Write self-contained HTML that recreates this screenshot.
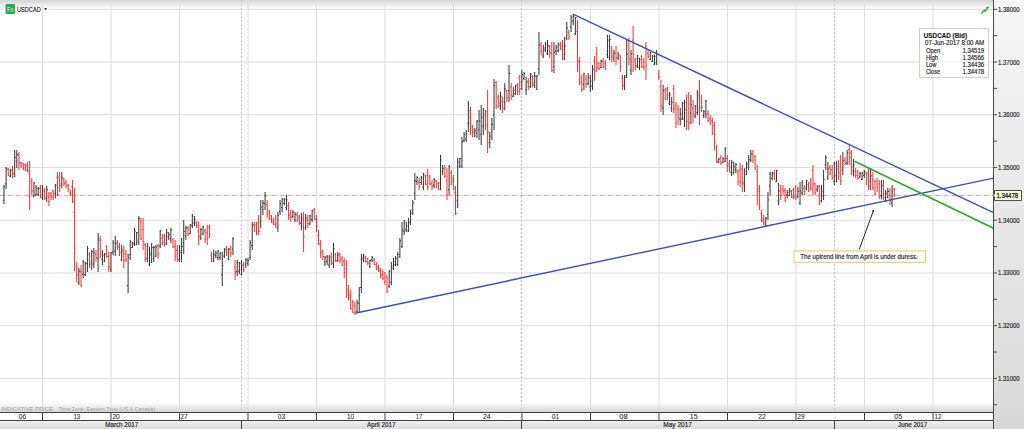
<!DOCTYPE html><html><head><meta charset="utf-8"><style>html,body{margin:0;padding:0;background:#fff;width:1024px;height:429px;overflow:hidden}svg{display:block;font-family:"Liberation Sans",sans-serif}</style></head><body>
<svg width="1024" height="429" viewBox="0 0 1024 429">
<defs><linearGradient id="gtop" x1="0" y1="0" x2="0" y2="1"><stop offset="0" stop-color="#d4d4d4"/><stop offset="1" stop-color="#fcfcfc"/></linearGradient><linearGradient id="gbot" x1="0" y1="0" x2="0" y2="1"><stop offset="0" stop-color="#ffffff"/><stop offset="1" stop-color="#d6d6d6"/></linearGradient><linearGradient id="gax" x1="0" y1="0" x2="0" y2="1"><stop offset="0" stop-color="#f6f6f6"/><stop offset="1" stop-color="#d9d9d9"/></linearGradient><linearGradient id="gmon" x1="0" y1="0" x2="0" y2="1"><stop offset="0" stop-color="#efefef"/><stop offset="1" stop-color="#dadada"/></linearGradient></defs>
<rect x="0" y="0" width="1024" height="429" fill="#ffffff"/>
<rect x="0" y="0" width="994" height="8.5" fill="url(#gtop)"/>
<rect x="0" y="402" width="994" height="10" fill="url(#gbot)"/>
<rect x="994" y="0" width="30" height="429" fill="url(#gax)"/>
<rect x="0" y="8.80" width="4" height="1" fill="#dcdcdc"/>
<rect x="49" y="8.80" width="944" height="1" fill="#dcdcdc"/>
<rect x="0" y="61.53" width="993" height="1" fill="#dcdcdc"/>
<rect x="0" y="114.26" width="993" height="1" fill="#dcdcdc"/>
<rect x="0" y="166.99" width="993" height="1" fill="#dcdcdc"/>
<rect x="0" y="219.72" width="993" height="1" fill="#dcdcdc"/>
<rect x="0" y="272.45" width="993" height="1" fill="#dcdcdc"/>
<rect x="0" y="325.18" width="993" height="1" fill="#dcdcdc"/>
<rect x="0" y="377.91" width="993" height="1" fill="#dcdcdc"/>
<rect x="42.00" y="0" width="1" height="412" fill="#dedede"/>
<rect x="110.50" y="0" width="1" height="412" fill="#dedede"/>
<rect x="179.00" y="0" width="1" height="412" fill="#dedede"/>
<rect x="247.50" y="0" width="1" height="412" fill="#dedede"/>
<rect x="316.00" y="0" width="1" height="412" fill="#dedede"/>
<rect x="384.50" y="0" width="1" height="412" fill="#dedede"/>
<rect x="453.00" y="0" width="1" height="412" fill="#dedede"/>
<rect x="590.00" y="0" width="1" height="412" fill="#dedede"/>
<rect x="658.50" y="0" width="1" height="412" fill="#dedede"/>
<rect x="727.00" y="0" width="1" height="412" fill="#dedede"/>
<rect x="795.50" y="0" width="1" height="412" fill="#dedede"/>
<rect x="864.00" y="0" width="1" height="412" fill="#dedede"/>
<rect x="932.50" y="0" width="1" height="412" fill="#dedede"/>
<line x1="241.50" y1="0" x2="241.50" y2="412" stroke="#c8c8c8" stroke-width="1" stroke-dasharray="2,2"/>
<line x1="521.50" y1="0" x2="521.50" y2="412" stroke="#c8c8c8" stroke-width="1" stroke-dasharray="2,2"/>
<line x1="834.50" y1="0" x2="834.50" y2="412" stroke="#c8c8c8" stroke-width="1" stroke-dasharray="2,2"/>
<line x1="0" y1="195.5" x2="993" y2="195.5" stroke="#ffd6d6" stroke-width="1"/>
<line x1="0" y1="195.5" x2="993" y2="195.5" stroke="#ff9c9c" stroke-width="1" stroke-dasharray="4,4"/>
<path d="M3.98 185.0V204.0M2.88 200.6h1.1M3.98 186.3h1.1M6.12 167.0V189.0M5.02 184.0h1.1M6.12 168.4h1.1M10.40 169.0V177.0M9.30 176.3h1.1M10.40 170.6h1.1M14.68 150.0V177.0M13.58 173.5h1.1M14.68 157.3h1.1M16.82 150.0V168.0M15.72 161.1h1.1M16.82 154.5h1.1M33.94 182.0V197.0M32.84 195.9h1.1M33.94 183.1h1.1M36.08 185.0V196.0M34.98 194.7h1.1M36.08 188.2h1.1M38.22 187.0V196.0M37.12 194.2h1.1M38.22 188.4h1.1M42.50 185.0V200.0M41.40 197.7h1.1M42.50 189.9h1.1M46.78 186.0V202.0M45.68 198.0h1.1M46.78 189.7h1.1M55.34 184.0V198.0M54.24 193.6h1.1M55.34 185.4h1.1M61.76 172.0V188.0M60.66 184.0h1.1M61.76 177.7h1.1M78.88 268.0V285.0M77.78 282.5h1.1M78.88 271.1h1.1M83.16 260.0V278.0M82.06 274.2h1.1M83.16 262.0h1.1M85.30 262.0V276.0M84.20 274.7h1.1M85.30 263.0h1.1M87.44 246.0V272.0M86.34 263.7h1.1M87.44 248.5h1.1M91.72 250.0V270.0M90.62 262.9h1.1M91.72 251.6h1.1M93.86 248.0V268.0M92.76 263.9h1.1M93.86 252.8h1.1M98.14 233.0V272.0M97.04 258.3h1.1M98.14 238.8h1.1M102.42 250.0V265.0M101.32 259.6h1.1M102.42 255.8h1.1M104.56 253.0V262.0M103.46 261.1h1.1M104.56 254.0h1.1M110.98 252.0V272.0M109.88 269.2h1.1M110.98 253.0h1.1M113.12 240.0V255.0M112.02 252.1h1.1M113.12 242.7h1.1M115.26 236.0V256.0M114.16 251.0h1.1M115.26 243.7h1.1M121.68 245.0V261.0M120.58 259.9h1.1M121.68 250.8h1.1M128.10 254.0V293.0M127.00 285.6h1.1M128.10 257.4h1.1M130.24 240.0V260.0M129.14 254.6h1.1M130.24 241.4h1.1M132.38 242.0V248.0M131.28 247.6h1.1M132.38 242.7h1.1M134.52 228.0V246.0M133.42 244.1h1.1M134.52 231.0h1.1M136.66 232.0V245.0M135.56 244.1h1.1M136.66 232.7h1.1M138.80 216.0V245.0M137.70 242.0h1.1M138.80 218.5h1.1M147.36 243.0V262.0M146.26 258.7h1.1M147.36 246.4h1.1M149.50 247.0V266.0M148.40 264.2h1.1M149.50 253.6h1.1M151.64 243.0V263.0M150.54 255.0h1.1M151.64 247.3h1.1M153.78 246.0V262.0M152.68 258.5h1.1M153.78 247.3h1.1M155.92 245.0V257.0M154.82 256.0h1.1M155.92 247.0h1.1M160.20 230.0V248.0M159.10 246.1h1.1M160.20 231.0h1.1M166.62 229.0V245.0M165.52 244.0h1.1M166.62 232.8h1.1M168.76 232.0V240.0M167.66 236.9h1.1M168.76 234.8h1.1M170.90 228.0V243.0M169.80 238.6h1.1M170.90 230.1h1.1M179.46 245.0V262.0M178.36 259.8h1.1M179.46 250.7h1.1M181.60 238.0V262.0M180.50 252.5h1.1M181.60 246.4h1.1M183.74 220.0V254.0M182.64 242.7h1.1M183.74 231.4h1.1M185.88 226.0V240.0M184.78 235.7h1.1M185.88 227.8h1.1M190.16 224.0V234.0M189.06 233.4h1.1M190.16 224.6h1.1M192.30 214.0V228.0M191.20 225.9h1.1M192.30 216.0h1.1M194.44 216.0V226.0M193.34 223.1h1.1M194.44 219.8h1.1M200.86 228.0V240.0M199.76 237.9h1.1M200.86 229.5h1.1M203.00 226.0V235.0M201.90 233.8h1.1M203.00 227.1h1.1M213.70 250.0V262.0M212.60 258.6h1.1M213.70 254.4h1.1M215.84 251.0V258.0M214.74 255.7h1.1M215.84 253.2h1.1M217.98 250.0V260.0M216.88 257.8h1.1M217.98 251.1h1.1M220.12 252.0V260.0M219.02 257.4h1.1M220.12 253.3h1.1M222.26 252.0V286.0M221.16 274.8h1.1M222.26 265.3h1.1M224.40 248.0V258.0M223.30 256.1h1.1M224.40 249.9h1.1M228.68 248.0V260.0M227.58 258.7h1.1M228.68 249.1h1.1M232.96 237.0V255.0M231.86 249.0h1.1M232.96 238.8h1.1M237.24 260.0V276.0M236.14 271.5h1.1M237.24 262.8h1.1M239.38 262.0V274.0M238.28 271.1h1.1M239.38 263.2h1.1M241.52 260.0V275.0M240.42 274.2h1.1M241.52 265.8h1.1M245.80 258.0V268.0M244.70 264.2h1.1M245.80 260.0h1.1M247.94 258.0V266.0M246.84 263.2h1.1M247.94 260.7h1.1M250.08 240.0V260.0M248.98 257.5h1.1M250.08 242.8h1.1M252.22 222.0V250.0M251.12 245.7h1.1M252.22 225.8h1.1M260.78 200.0V228.0M259.68 222.1h1.1M260.78 207.1h1.1M262.92 200.0V215.0M261.82 209.5h1.1M262.92 203.0h1.1M265.06 192.0V210.0M263.96 203.3h1.1M265.06 196.1h1.1M277.90 212.0V232.0M276.80 227.1h1.1M277.90 215.3h1.1M280.04 200.0V215.0M278.94 211.5h1.1M280.04 203.7h1.1M282.18 198.0V212.0M281.08 207.5h1.1M282.18 199.2h1.1M284.32 198.0V205.0M283.22 203.3h1.1M284.32 199.0h1.1M286.46 195.0V210.0M285.36 207.8h1.1M286.46 199.8h1.1M292.88 210.0V218.0M291.78 216.4h1.1M292.88 212.1h1.1M295.02 212.0V222.0M293.92 219.7h1.1M295.02 214.3h1.1M301.44 213.0V230.0M300.34 223.5h1.1M301.44 218.0h1.1M305.72 214.0V230.0M304.62 227.7h1.1M305.72 217.9h1.1M310.00 215.0V225.0M308.90 224.0h1.1M310.00 215.9h1.1M312.14 210.0V222.0M311.04 219.5h1.1M312.14 210.9h1.1M324.98 256.0V266.0M323.88 262.1h1.1M324.98 257.3h1.1M327.12 255.0V265.0M326.02 261.2h1.1M327.12 256.9h1.1M329.26 255.0V268.0M328.16 265.1h1.1M329.26 260.2h1.1M333.54 243.0V268.0M332.44 263.0h1.1M333.54 248.8h1.1M337.82 252.0V262.0M336.72 260.4h1.1M337.82 255.0h1.1M357.08 300.0V313.0M355.98 311.8h1.1M357.08 302.6h1.1M359.22 287.0V313.0M358.12 303.4h1.1M359.22 295.8h1.1M361.36 254.0V293.0M360.26 287.5h1.1M361.36 258.0h1.1M363.50 254.0V262.0M362.40 259.0h1.1M363.50 256.0h1.1M369.92 260.0V268.0M368.82 266.4h1.1M369.92 260.6h1.1M372.06 256.0V262.0M370.96 259.7h1.1M372.06 257.6h1.1M389.18 270.0V288.0M388.08 286.1h1.1M389.18 271.2h1.1M391.32 262.0V285.0M390.22 282.2h1.1M391.32 265.7h1.1M393.46 258.0V270.0M392.36 268.1h1.1M393.46 261.8h1.1M395.60 256.0V266.0M394.50 264.5h1.1M395.60 258.3h1.1M397.74 252.0V266.0M396.64 264.4h1.1M397.74 254.4h1.1M399.88 238.0V258.0M398.78 256.9h1.1M399.88 240.8h1.1M402.02 222.0V248.0M400.92 246.6h1.1M402.02 230.0h1.1M404.16 220.0V235.0M403.06 231.4h1.1M404.16 221.7h1.1M406.30 222.0V232.0M405.20 229.8h1.1M406.30 225.8h1.1M408.44 218.0V232.0M407.34 230.8h1.1M408.44 222.7h1.1M410.58 210.0V225.0M409.48 222.0h1.1M410.58 213.3h1.1M412.72 200.0V215.0M411.62 209.9h1.1M412.72 202.8h1.1M414.86 173.0V200.0M413.76 193.9h1.1M414.86 180.8h1.1M417.00 176.0V185.0M415.90 181.5h1.1M417.00 177.5h1.1M421.28 176.0V185.0M420.18 182.5h1.1M421.28 177.7h1.1M423.42 173.0V190.0M422.32 187.1h1.1M423.42 174.2h1.1M434.12 178.0V188.0M433.02 185.2h1.1M434.12 179.5h1.1M440.54 155.0V190.0M439.44 182.8h1.1M440.54 160.0h1.1M442.68 165.0V175.0M441.58 171.1h1.1M442.68 168.9h1.1M449.10 165.0V195.0M448.00 189.8h1.1M449.10 166.5h1.1M457.66 158.0V208.0M456.56 200.9h1.1M457.66 162.1h1.1M459.80 158.0V168.0M458.70 166.1h1.1M459.80 158.6h1.1M461.94 137.0V168.0M460.84 166.2h1.1M461.94 141.9h1.1M464.08 132.0V142.0M462.98 140.7h1.1M464.08 134.5h1.1M466.22 130.0V142.0M465.12 139.2h1.1M466.22 133.8h1.1M468.36 101.0V132.0M467.26 123.3h1.1M468.36 110.3h1.1M474.78 128.0V137.0M473.68 136.1h1.1M474.78 130.7h1.1M476.92 120.0V138.0M475.82 133.0h1.1M476.92 121.2h1.1M479.06 110.0V140.0M477.96 129.7h1.1M479.06 120.9h1.1M481.20 105.0V145.0M480.10 134.2h1.1M481.20 117.3h1.1M483.34 108.0V135.0M482.24 126.0h1.1M483.34 110.7h1.1M489.76 132.0V148.0M488.66 142.6h1.1M489.76 136.1h1.1M491.90 118.0V140.0M490.80 132.0h1.1M491.90 124.4h1.1M494.04 79.0V130.0M492.94 115.1h1.1M494.04 85.7h1.1M500.46 92.0V110.0M499.36 103.8h1.1M500.46 96.4h1.1M504.74 83.0V110.0M503.64 102.2h1.1M504.74 89.0h1.1M509.02 65.0V102.0M507.92 90.5h1.1M509.02 73.4h1.1M513.30 87.0V97.0M512.20 96.3h1.1M513.30 90.1h1.1M515.44 85.0V95.0M514.34 93.6h1.1M515.44 85.8h1.1M521.86 70.0V90.0M520.76 82.2h1.1M521.86 74.5h1.1M524.00 72.0V80.0M522.90 78.5h1.1M524.00 73.7h1.1M526.14 77.0V95.0M525.04 89.8h1.1M526.14 82.7h1.1M530.42 73.0V88.0M529.32 86.8h1.1M530.42 74.5h1.1M534.70 72.0V88.0M533.60 85.5h1.1M534.70 76.0h1.1M536.84 75.0V90.0M535.74 89.2h1.1M536.84 76.1h1.1M538.98 32.0V75.0M537.88 68.8h1.1M538.98 44.3h1.1M543.26 45.0V58.0M542.16 56.0h1.1M543.26 48.0h1.1M545.40 42.0V52.0M544.30 49.9h1.1M545.40 44.1h1.1M547.54 40.0V55.0M546.44 53.6h1.1M547.54 45.4h1.1M553.96 42.0V73.0M552.86 66.5h1.1M553.96 52.4h1.1M556.10 45.0V55.0M555.00 51.1h1.1M556.10 47.1h1.1M558.24 43.0V52.0M557.14 50.7h1.1M558.24 44.1h1.1M564.66 37.0V60.0M563.56 54.6h1.1M564.66 45.8h1.1M566.80 22.0V40.0M565.70 38.3h1.1M566.80 28.1h1.1M571.08 15.0V32.0M569.98 27.0h1.1M571.08 17.2h1.1M573.22 14.0V25.0M572.12 21.0h1.1M573.22 16.4h1.1M575.36 17.0V35.0M574.26 33.9h1.1M575.36 17.9h1.1M583.92 73.0V90.0M582.82 84.2h1.1M583.92 73.9h1.1M588.20 73.0V85.0M587.10 83.9h1.1M588.20 77.5h1.1M590.34 75.0V92.0M589.24 86.9h1.1M590.34 81.2h1.1M592.48 65.0V90.0M591.38 86.2h1.1M592.48 69.5h1.1M601.04 60.0V68.0M599.94 67.5h1.1M601.04 60.7h1.1M607.46 35.0V58.0M606.36 54.7h1.1M607.46 40.3h1.1M609.60 35.0V60.0M608.50 57.1h1.1M609.60 39.5h1.1M613.88 50.0V62.0M612.78 58.0h1.1M613.88 53.2h1.1M618.16 52.0V60.0M617.06 58.1h1.1M618.16 54.4h1.1M624.58 75.0V90.0M623.48 85.9h1.1M624.58 77.3h1.1M626.72 40.0V78.0M625.62 75.4h1.1M626.72 54.2h1.1M631.00 50.0V75.0M629.90 70.7h1.1M631.00 53.9h1.1M637.42 55.0V68.0M636.32 66.0h1.1M637.42 58.2h1.1M639.56 58.0V70.0M638.46 67.7h1.1M639.56 59.3h1.1M650.26 52.0V60.0M649.16 59.2h1.1M650.26 52.9h1.1M652.40 55.0V62.0M651.30 61.4h1.1M652.40 56.2h1.1M654.54 55.0V65.0M653.44 64.2h1.1M654.54 56.3h1.1M656.68 50.0V65.0M655.58 62.9h1.1M656.68 53.7h1.1M663.10 85.0V115.0M662.00 108.0h1.1M663.10 90.5h1.1M669.52 92.0V105.0M668.42 103.8h1.1M669.52 94.9h1.1M671.66 97.0V112.0M670.56 107.9h1.1M671.66 102.3h1.1M680.22 108.0V125.0M679.12 119.1h1.1M680.22 114.0h1.1M682.36 102.0V120.0M681.26 119.0h1.1M682.36 103.1h1.1M684.50 100.0V127.0M683.40 118.9h1.1M684.50 109.8h1.1M690.92 95.0V124.0M689.82 113.1h1.1M690.92 104.8h1.1M695.20 105.0V118.0M694.10 116.2h1.1M695.20 106.1h1.1M697.34 90.0V115.0M696.24 112.4h1.1M697.34 95.8h1.1M703.76 110.0V118.0M702.66 115.5h1.1M703.76 111.7h1.1M705.90 100.0V118.0M704.80 113.6h1.1M705.90 101.1h1.1M718.74 158.0V163.0M717.64 162.6h1.1M718.74 159.2h1.1M723.02 157.0V163.0M721.92 162.2h1.1M723.02 158.6h1.1M725.16 147.0V162.0M724.06 161.2h1.1M725.16 149.3h1.1M731.58 160.0V176.0M730.48 172.5h1.1M731.58 162.1h1.1M733.72 161.5V174.5M732.62 172.7h1.1M733.72 166.5h1.1M735.86 163.0V173.0M734.76 170.0h1.1M735.86 164.6h1.1M744.42 168.0V192.0M743.32 183.0h1.1M744.42 171.1h1.1M746.56 162.0V175.0M745.46 174.2h1.1M746.56 164.2h1.1M748.70 155.0V170.0M747.60 167.0h1.1M748.70 159.3h1.1M750.84 150.0V162.0M749.74 160.6h1.1M750.84 153.9h1.1M765.82 217.0V227.0M764.72 225.8h1.1M765.82 218.3h1.1M767.96 192.0V220.0M766.86 214.5h1.1M767.96 199.9h1.1M770.10 172.0V195.0M769.00 186.2h1.1M770.10 174.3h1.1M772.24 172.0V180.0M771.14 178.5h1.1M772.24 173.0h1.1M776.52 170.0V182.0M775.42 181.2h1.1M776.52 170.9h1.1M778.66 183.0V205.0M777.56 200.9h1.1M778.66 191.0h1.1M787.22 190.0V198.0M786.12 195.0h1.1M787.22 192.5h1.1M789.36 188.0V196.0M788.26 195.5h1.1M789.36 190.3h1.1M797.92 187.0V198.0M796.82 196.1h1.1M797.92 191.2h1.1M800.06 182.0V205.0M798.96 202.9h1.1M800.06 190.9h1.1M802.20 180.0V195.0M801.10 193.2h1.1M802.20 182.6h1.1M806.48 180.0V190.0M805.38 188.0h1.1M806.48 180.7h1.1M817.18 185.0V192.0M816.08 189.7h1.1M817.18 187.2h1.1M821.46 185.0V202.0M820.36 200.8h1.1M821.46 191.3h1.1M823.60 170.0V200.0M822.50 195.8h1.1M823.60 179.3h1.1M825.74 155.0V170.0M824.64 164.5h1.1M825.74 157.5h1.1M827.88 162.0V180.0M826.78 177.4h1.1M827.88 168.9h1.1M834.30 162.0V185.0M833.20 181.6h1.1M834.30 163.2h1.1M836.44 161.0V182.5M835.34 175.7h1.1M836.44 169.0h1.1M842.86 152.0V175.0M841.76 170.0h1.1M842.86 160.9h1.1M847.14 150.0V165.0M846.04 162.9h1.1M847.14 153.0h1.1M853.56 159.0V176.5M852.46 171.1h1.1M853.56 164.9h1.1M859.98 172.0V178.0M858.88 176.9h1.1M859.98 173.9h1.1M862.12 172.0V180.0M861.02 179.4h1.1M862.12 173.0h1.1M864.26 170.0V178.0M863.16 175.5h1.1M864.26 171.1h1.1M870.68 168.0V190.0M869.58 181.4h1.1M870.68 175.9h1.1M881.38 180.0V199.5M880.28 195.7h1.1M881.38 185.2h1.1M885.66 190.0V202.0M884.56 197.8h1.1M885.66 193.4h1.1M887.80 188.0V198.0M886.70 197.1h1.1M887.80 191.4h1.1M892.08 185.0V207.0M890.98 203.0h1.1M892.08 191.8h1.1" stroke="#333" stroke-width="1" fill="none"/>
<path d="M8.26 168.0V176.0M7.16 169.6h1.1M8.26 175.4h1.1M12.54 166.0V178.0M11.44 170.1h1.1M12.54 176.9h1.1M18.96 152.0V170.0M17.86 155.4h1.1M18.96 162.9h1.1M21.10 162.0V168.0M20.00 162.4h1.1M21.10 165.9h1.1M23.24 163.0V170.0M22.14 164.1h1.1M23.24 169.3h1.1M25.38 164.0V171.0M24.28 164.6h1.1M25.38 169.9h1.1M27.52 162.0V172.0M26.42 165.4h1.1M27.52 170.9h1.1M29.66 161.0V210.0M28.56 173.4h1.1M29.66 196.6h1.1M31.80 178.0V195.0M30.70 181.1h1.1M31.80 190.9h1.1M40.36 185.0V198.0M39.26 188.3h1.1M40.36 195.3h1.1M44.64 188.0V200.0M43.54 191.5h1.1M44.64 198.4h1.1M48.92 192.0V206.0M47.82 197.0h1.1M48.92 201.7h1.1M51.06 192.0V200.0M49.96 193.2h1.1M51.06 196.9h1.1M53.20 190.0V200.0M52.10 190.9h1.1M53.20 198.0h1.1M57.48 172.0V196.0M56.38 177.3h1.1M57.48 194.5h1.1M59.62 172.0V192.0M58.52 177.7h1.1M59.62 185.6h1.1M63.90 178.0V186.0M62.80 179.3h1.1M63.90 183.7h1.1M66.04 180.0V188.0M64.94 182.1h1.1M66.04 186.0h1.1M68.18 184.0V192.0M67.08 185.7h1.1M68.18 189.2h1.1M70.32 190.0V196.0M69.22 192.3h1.1M70.32 194.7h1.1M72.46 180.0V203.0M71.36 186.5h1.1M72.46 201.4h1.1M74.60 188.0V271.0M73.50 212.5h1.1M74.60 248.1h1.1M76.74 262.0V282.0M75.64 270.0h1.1M76.74 275.2h1.1M81.02 265.0V287.0M79.92 271.2h1.1M81.02 285.7h1.1M89.58 252.0V268.0M88.48 254.2h1.1M89.58 265.0h1.1M96.00 250.0V262.0M94.90 254.3h1.1M96.00 258.0h1.1M100.28 236.0V258.0M99.18 240.3h1.1M100.28 254.1h1.1M106.70 245.0V258.0M105.60 246.7h1.1M106.70 256.3h1.1M108.84 252.0V272.0M107.74 256.4h1.1M108.84 266.9h1.1M117.40 240.0V250.0M116.30 242.9h1.1M117.40 247.7h1.1M119.54 243.0V256.0M118.44 246.5h1.1M119.54 252.3h1.1M123.82 246.0V268.0M122.72 253.1h1.1M123.82 260.2h1.1M125.96 250.0V262.0M124.86 254.0h1.1M125.96 259.8h1.1M140.94 218.0V240.0M139.84 221.9h1.1M140.94 238.7h1.1M143.08 218.0V250.0M141.98 229.4h1.1M143.08 241.5h1.1M145.22 243.0V262.0M144.12 244.9h1.1M145.22 259.4h1.1M158.06 244.0V259.0M156.96 246.1h1.1M158.06 253.9h1.1M162.34 234.0V245.0M161.24 238.2h1.1M162.34 242.4h1.1M164.48 234.0V247.0M163.38 235.3h1.1M164.48 243.9h1.1M173.04 238.0V248.0M171.94 239.8h1.1M173.04 246.9h1.1M175.18 240.0V261.0M174.08 246.7h1.1M175.18 256.0h1.1M177.32 245.0V262.0M176.22 250.5h1.1M177.32 259.2h1.1M188.02 226.0V236.0M186.92 228.3h1.1M188.02 234.3h1.1M196.58 221.0V228.0M195.48 222.4h1.1M196.58 225.4h1.1M198.72 222.0V245.0M197.62 231.1h1.1M198.72 236.2h1.1M205.14 229.0V243.0M204.04 230.7h1.1M205.14 239.2h1.1M207.28 225.0V245.0M206.18 232.3h1.1M207.28 238.1h1.1M209.42 225.0V238.0M208.32 227.8h1.1M209.42 234.4h1.1M211.56 252.0V262.0M210.46 255.3h1.1M211.56 261.2h1.1M226.54 246.0V256.0M225.44 249.8h1.1M226.54 253.0h1.1M230.82 246.0V257.0M229.72 247.1h1.1M230.82 253.0h1.1M235.10 260.0V280.0M234.00 266.8h1.1M235.10 272.1h1.1M243.66 262.0V272.0M242.56 264.8h1.1M243.66 269.7h1.1M254.36 222.0V232.0M253.26 224.6h1.1M254.36 230.6h1.1M256.50 222.0V235.0M255.40 224.6h1.1M256.50 233.8h1.1M258.64 215.0V235.0M257.54 222.4h1.1M258.64 231.5h1.1M267.20 200.0V218.0M266.10 204.3h1.1M267.20 213.8h1.1M269.34 210.0V220.0M268.24 210.6h1.1M269.34 218.0h1.1M271.48 215.0V223.0M270.38 215.9h1.1M271.48 222.6h1.1M273.62 218.0V225.0M272.52 220.3h1.1M273.62 224.2h1.1M275.76 215.0V228.0M274.66 217.8h1.1M275.76 224.1h1.1M288.60 202.0V220.0M287.50 206.1h1.1M288.60 215.6h1.1M290.74 210.0V222.0M289.64 213.8h1.1M290.74 217.6h1.1M297.16 212.0V222.0M296.06 214.9h1.1M297.16 219.9h1.1M299.30 215.0V225.0M298.20 217.4h1.1M299.30 222.8h1.1M303.58 212.0V252.0M302.48 226.3h1.1M303.58 236.8h1.1M307.86 215.0V228.0M306.76 219.9h1.1M307.86 223.5h1.1M314.28 208.0V220.0M313.18 209.6h1.1M314.28 219.1h1.1M316.42 215.0V232.0M315.32 219.8h1.1M316.42 226.5h1.1M318.56 230.0V245.0M317.46 235.5h1.1M318.56 243.4h1.1M320.70 240.0V258.0M319.60 245.4h1.1M320.70 252.9h1.1M322.84 250.0V260.0M321.74 251.0h1.1M322.84 256.4h1.1M331.40 253.0V265.0M330.30 257.1h1.1M331.40 263.7h1.1M335.68 253.0V262.0M334.58 254.5h1.1M335.68 260.9h1.1M339.96 253.0V263.0M338.86 253.6h1.1M339.96 260.6h1.1M342.10 256.0V266.0M341.00 258.0h1.1M342.10 265.4h1.1M344.24 258.0V278.0M343.14 261.3h1.1M344.24 272.6h1.1M346.38 260.0V298.0M345.28 268.7h1.1M346.38 295.2h1.1M348.52 285.0V300.0M347.42 290.9h1.1M348.52 295.1h1.1M350.66 290.0V310.0M349.56 297.8h1.1M350.66 308.3h1.1M352.80 300.0V313.0M351.70 301.9h1.1M352.80 312.2h1.1M354.94 302.0V315.0M353.84 306.2h1.1M354.94 313.1h1.1M365.64 256.0V262.0M364.54 257.8h1.1M365.64 261.5h1.1M367.78 258.0V265.0M366.68 258.5h1.1M367.78 263.0h1.1M374.20 258.0V265.0M373.10 260.3h1.1M374.20 264.4h1.1M376.34 262.0V270.0M375.24 264.8h1.1M376.34 269.4h1.1M378.48 265.0V272.0M377.38 267.5h1.1M378.48 270.5h1.1M380.62 268.0V278.0M379.52 269.7h1.1M380.62 275.6h1.1M382.76 270.0V280.0M381.66 273.7h1.1M382.76 278.6h1.1M384.90 272.0V285.0M383.80 273.2h1.1M384.90 282.0h1.1M387.04 275.0V293.0M385.94 277.4h1.1M387.04 291.4h1.1M419.14 178.0V190.0M418.04 182.1h1.1M419.14 186.4h1.1M425.56 175.0V185.0M424.46 176.0h1.1M425.56 184.3h1.1M427.70 169.0V190.0M426.60 175.5h1.1M427.70 187.1h1.1M429.84 175.0V185.0M428.74 176.1h1.1M429.84 184.2h1.1M431.98 180.0V190.0M430.88 183.4h1.1M431.98 186.5h1.1M436.26 180.0V188.0M435.16 181.1h1.1M436.26 186.8h1.1M438.40 182.0V190.0M437.30 183.7h1.1M438.40 189.2h1.1M444.82 165.0V178.0M443.72 168.1h1.1M444.82 176.2h1.1M446.96 168.0V200.0M445.86 180.4h1.1M446.96 194.9h1.1M451.24 170.0V185.0M450.14 172.8h1.1M451.24 181.8h1.1M453.38 175.0V190.0M452.28 178.4h1.1M453.38 188.2h1.1M455.52 186.0V215.0M454.42 192.6h1.1M455.52 213.5h1.1M470.50 107.0V135.0M469.40 117.0h1.1M470.50 129.8h1.1M472.64 125.0V137.0M471.54 127.0h1.1M472.64 132.3h1.1M485.48 110.0V130.0M484.38 114.7h1.1M485.48 125.5h1.1M487.62 90.0V153.0M486.52 111.6h1.1M487.62 132.1h1.1M496.18 81.0V109.0M495.08 82.7h1.1M496.18 106.3h1.1M498.32 95.0V108.0M497.22 97.3h1.1M498.32 106.9h1.1M502.60 97.0V113.0M501.50 101.3h1.1M502.60 108.7h1.1M506.88 90.0V102.0M505.78 90.6h1.1M506.88 98.0h1.1M511.16 83.0V100.0M510.06 87.0h1.1M511.16 95.2h1.1M517.58 83.0V95.0M516.48 84.7h1.1M517.58 91.3h1.1M519.72 75.0V95.0M518.62 77.4h1.1M519.72 88.8h1.1M528.28 78.0V90.0M527.18 81.2h1.1M528.28 86.7h1.1M532.56 75.0V87.0M531.46 76.7h1.1M532.56 83.3h1.1M541.12 42.0V55.0M540.02 45.8h1.1M541.12 51.3h1.1M549.68 45.0V58.0M548.58 46.6h1.1M549.68 52.9h1.1M551.82 42.0V72.0M550.72 53.3h1.1M551.82 70.3h1.1M560.38 42.0V50.0M559.28 45.0h1.1M560.38 49.0h1.1M562.52 40.0V60.0M561.42 45.1h1.1M562.52 58.0h1.1M568.94 30.0V40.0M567.84 32.3h1.1M568.94 36.4h1.1M577.50 20.0V72.0M576.40 31.5h1.1M577.50 61.2h1.1M579.64 57.0V85.0M578.54 61.4h1.1M579.64 82.2h1.1M581.78 75.0V92.0M580.68 77.9h1.1M581.78 89.3h1.1M586.06 75.0V88.0M584.96 79.1h1.1M586.06 83.5h1.1M594.62 56.0V81.0M593.52 60.7h1.1M594.62 71.0h1.1M596.76 47.0V72.0M595.66 53.4h1.1M596.76 67.6h1.1M598.90 62.0V70.0M597.80 63.6h1.1M598.90 68.8h1.1M603.18 58.0V68.0M602.08 61.4h1.1M603.18 66.5h1.1M605.32 60.0V70.0M604.22 63.8h1.1M605.32 68.6h1.1M611.74 46.0V62.0M610.64 52.2h1.1M611.74 56.2h1.1M616.02 46.0V65.0M614.92 53.0h1.1M616.02 57.8h1.1M620.30 55.0V72.0M619.20 56.1h1.1M620.30 66.8h1.1M622.44 75.0V90.0M621.34 78.1h1.1M622.44 85.3h1.1M628.86 38.0V65.0M627.76 40.6h1.1M628.86 59.2h1.1M633.14 26.0V72.0M632.04 40.2h1.1M633.14 54.0h1.1M635.28 58.0V70.0M634.18 59.7h1.1M635.28 66.6h1.1M641.70 55.0V68.0M640.60 56.4h1.1M641.70 66.4h1.1M643.84 58.0V70.0M642.74 62.4h1.1M643.84 67.3h1.1M645.98 42.0V80.0M644.88 46.8h1.1M645.98 66.0h1.1M648.12 50.0V58.0M647.02 53.2h1.1M648.12 56.3h1.1M658.82 70.0V80.0M657.72 73.6h1.1M658.82 76.9h1.1M660.96 80.0V112.0M659.86 86.2h1.1M660.96 105.8h1.1M665.24 88.0V100.0M664.14 90.0h1.1M665.24 99.1h1.1M667.38 87.0V100.0M666.28 88.9h1.1M667.38 94.9h1.1M673.80 85.0V113.0M672.70 88.5h1.1M673.80 108.9h1.1M675.94 102.0V128.0M674.84 105.6h1.1M675.94 123.1h1.1M678.08 105.0V125.0M676.98 109.1h1.1M678.08 117.3h1.1M686.64 95.0V130.0M685.54 102.5h1.1M686.64 121.1h1.1M688.78 92.0V130.0M687.68 93.9h1.1M688.78 122.9h1.1M693.06 100.0V123.0M691.96 108.0h1.1M693.06 114.0h1.1M699.48 80.0V125.0M698.38 93.0h1.1M699.48 107.9h1.1M701.62 95.0V112.0M700.52 100.1h1.1M701.62 107.3h1.1M708.04 110.0V122.0M706.94 113.9h1.1M708.04 120.4h1.1M710.18 115.0V125.0M709.08 118.7h1.1M710.18 122.2h1.1M712.32 118.0V135.0M711.22 120.7h1.1M712.32 133.4h1.1M714.46 122.0V150.0M713.36 125.9h1.1M714.46 142.4h1.1M716.60 145.0V163.0M715.50 150.3h1.1M716.60 161.4h1.1M720.88 155.0V165.0M719.78 157.5h1.1M720.88 163.1h1.1M727.30 155.0V172.0M726.20 158.6h1.1M727.30 165.4h1.1M729.44 160.0V172.0M728.34 163.3h1.1M729.44 167.7h1.1M738.00 170.0V185.0M736.90 170.9h1.1M738.00 181.6h1.1M740.14 163.0V187.0M739.04 169.9h1.1M740.14 182.3h1.1M742.28 165.0V192.0M741.18 168.8h1.1M742.28 184.3h1.1M752.98 150.0V163.0M751.88 154.0h1.1M752.98 160.1h1.1M755.12 155.0V170.0M754.02 156.8h1.1M755.12 164.2h1.1M757.26 165.0V205.0M756.16 171.4h1.1M757.26 191.5h1.1M759.40 185.0V210.0M758.30 188.3h1.1M759.40 206.8h1.1M761.54 210.0V222.0M760.44 213.8h1.1M761.54 220.2h1.1M763.68 215.0V225.0M762.58 218.8h1.1M763.68 222.8h1.1M774.38 170.0V180.0M773.28 173.9h1.1M774.38 179.0h1.1M780.80 185.0V200.0M779.70 190.4h1.1M780.80 195.4h1.1M782.94 185.0V195.0M781.84 189.0h1.1M782.94 191.2h1.1M785.08 188.0V202.0M783.98 190.3h1.1M785.08 200.4h1.1M791.50 190.0V198.0M790.40 191.5h1.1M791.50 196.6h1.1M793.64 187.5V199.0M792.54 189.4h1.1M793.64 197.7h1.1M795.78 185.0V200.0M794.68 185.8h1.1M795.78 197.8h1.1M804.34 185.0V195.0M803.24 188.4h1.1M804.34 191.6h1.1M808.62 182.0V192.0M807.52 184.2h1.1M808.62 190.2h1.1M810.76 178.0V190.0M809.66 182.5h1.1M810.76 188.6h1.1M812.90 165.0V195.0M811.80 170.3h1.1M812.90 184.1h1.1M815.04 183.0V195.0M813.94 183.7h1.1M815.04 192.7h1.1M819.32 185.0V205.0M818.22 186.3h1.1M819.32 203.8h1.1M830.02 165.0V175.0M828.92 167.7h1.1M830.02 173.6h1.1M832.16 165.0V180.0M831.06 169.5h1.1M832.16 177.6h1.1M838.58 160.0V180.0M837.48 165.4h1.1M838.58 172.4h1.1M840.72 155.0V185.0M839.62 156.8h1.1M840.72 181.0h1.1M845.00 157.0V165.0M843.90 160.1h1.1M845.00 163.5h1.1M849.28 145.0V165.0M848.18 149.5h1.1M849.28 157.5h1.1M851.42 150.0V175.0M850.32 152.9h1.1M851.42 166.7h1.1M855.70 168.0V178.0M854.60 171.2h1.1M855.70 175.4h1.1M857.84 170.0V180.0M856.74 171.6h1.1M857.84 178.4h1.1M866.40 172.0V185.0M865.30 172.9h1.1M866.40 184.2h1.1M868.54 168.0V190.0M867.44 173.4h1.1M868.54 186.4h1.1M872.82 172.0V190.0M871.72 179.1h1.1M872.82 187.4h1.1M874.96 180.0V195.0M873.86 181.2h1.1M874.96 193.7h1.1M877.10 178.0V192.0M876.00 181.1h1.1M877.10 187.8h1.1M879.24 180.0V199.0M878.14 183.9h1.1M879.24 196.5h1.1M883.52 180.0V200.0M882.42 185.7h1.1M883.52 193.8h1.1M889.94 188.0V205.0M888.84 190.6h1.1M889.94 200.8h1.1M894.22 188.0V197.0M893.12 189.1h1.1M894.22 195.8h1.1" stroke="#ff2a2a" stroke-width="1" fill="none"/>
<line x1="356" y1="313" x2="993.5" y2="178.1" stroke="#3f51b0" stroke-width="1.4"/>
<line x1="573" y1="14.2" x2="993.5" y2="212.7" stroke="#3f51b0" stroke-width="1.4"/>
<line x1="854.5" y1="161.25" x2="993.5" y2="228.2" stroke="#2aa52a" stroke-width="1.5"/>
<line x1="873.3" y1="211" x2="859.2" y2="249.5" stroke="#222" stroke-width="1"/>
<circle cx="873.3" cy="211" r="1" fill="#222"/>
<rect x="794" y="250.9" width="131.5" height="11.4" fill="#ffffff" stroke="#f7c25a" stroke-width="1"/>
<text x="800.25" y="258.85" font-size="6.6" fill="#222" textLength="117.50" lengthAdjust="spacingAndGlyphs" stroke="#222" stroke-width="0.15">The uptrend line from April is under duress.</text>
<rect x="5.5" y="4" width="9.5" height="10" rx="1" fill="#2eaa4e"/>
<text x="7.00" y="11.50" font-size="6.5" fill="#d8f5d8" textLength="6.50" lengthAdjust="spacingAndGlyphs">Fx</text>
<text x="17.00" y="11.70" font-size="6.6" fill="#222" textLength="23.70" lengthAdjust="spacingAndGlyphs" stroke="#222" stroke-width="0.15">USDCAD</text>
<path d="M44 8.2h3.2l-1.6 2z" fill="#111"/>
<path d="M981.4 13.6 L984.3 10.2 L984.9 11.4 L988.3 7.4 L986.2 7.8" stroke="#33aa33" stroke-width="1.3" fill="none"/>
<rect x="919.5" y="28.5" width="69" height="49" fill="#ffffff" fill-opacity="0.75" stroke="#cfcfcf" stroke-width="1"/>
<text x="923.80" y="37.60" font-size="6.4" fill="#222" font-weight="bold" textLength="43.20" lengthAdjust="spacingAndGlyphs" stroke="#222" stroke-width="0.15">USDCAD (Bid)</text>
<text x="925.00" y="44.60" font-size="6.4" fill="#222" textLength="59.20" lengthAdjust="spacingAndGlyphs" stroke="#222" stroke-width="0.15">07-Jun-2017 8:00 AM</text>
<text x="925.90" y="52.80" font-size="6.4" fill="#222" textLength="14.30" lengthAdjust="spacingAndGlyphs" stroke="#222" stroke-width="0.15">Open</text>
<text x="962.40" y="52.80" font-size="6.4" fill="#222" textLength="21.80" lengthAdjust="spacingAndGlyphs" stroke="#222" stroke-width="0.15">1.34519</text>
<text x="925.90" y="59.93" font-size="6.4" fill="#222" textLength="12.10" lengthAdjust="spacingAndGlyphs" stroke="#222" stroke-width="0.15">High</text>
<text x="962.40" y="59.93" font-size="6.4" fill="#222" textLength="21.80" lengthAdjust="spacingAndGlyphs" stroke="#222" stroke-width="0.15">1.34566</text>
<text x="925.90" y="67.06" font-size="6.4" fill="#222" textLength="10.60" lengthAdjust="spacingAndGlyphs" stroke="#222" stroke-width="0.15">Low</text>
<text x="962.40" y="67.06" font-size="6.4" fill="#222" textLength="21.80" lengthAdjust="spacingAndGlyphs" stroke="#222" stroke-width="0.15">1.34436</text>
<text x="925.90" y="74.19" font-size="6.4" fill="#222" textLength="14.10" lengthAdjust="spacingAndGlyphs" stroke="#222" stroke-width="0.15">Close</text>
<text x="962.40" y="74.19" font-size="6.4" fill="#222" textLength="21.80" lengthAdjust="spacingAndGlyphs" stroke="#222" stroke-width="0.15">1.34478</text>
<rect x="993" y="0" width="1" height="429" fill="#4a4a4a"/>
<rect x="994" y="8.80" width="3" height="1" fill="#4a4a4a"/>
<rect x="994" y="35.16" width="3" height="1" fill="#4a4a4a"/>
<text x="998.00" y="11.80" font-size="6.5" fill="#222" textLength="21.70" lengthAdjust="spacingAndGlyphs" stroke="#222" stroke-width="0.15">1.38000</text>
<rect x="994" y="61.53" width="3" height="1" fill="#4a4a4a"/>
<rect x="994" y="87.89" width="3" height="1" fill="#4a4a4a"/>
<text x="998.00" y="64.53" font-size="6.5" fill="#222" textLength="21.70" lengthAdjust="spacingAndGlyphs" stroke="#222" stroke-width="0.15">1.37000</text>
<rect x="994" y="114.26" width="3" height="1" fill="#4a4a4a"/>
<rect x="994" y="140.62" width="3" height="1" fill="#4a4a4a"/>
<text x="998.00" y="117.26" font-size="6.5" fill="#222" textLength="21.70" lengthAdjust="spacingAndGlyphs" stroke="#222" stroke-width="0.15">1.36000</text>
<rect x="994" y="166.99" width="3" height="1" fill="#4a4a4a"/>
<rect x="994" y="193.36" width="3" height="1" fill="#4a4a4a"/>
<text x="998.00" y="169.99" font-size="6.5" fill="#222" textLength="21.70" lengthAdjust="spacingAndGlyphs" stroke="#222" stroke-width="0.15">1.35000</text>
<rect x="994" y="219.72" width="3" height="1" fill="#4a4a4a"/>
<rect x="994" y="246.09" width="3" height="1" fill="#4a4a4a"/>
<text x="998.00" y="222.72" font-size="6.5" fill="#222" textLength="21.70" lengthAdjust="spacingAndGlyphs" stroke="#222" stroke-width="0.15">1.34000</text>
<rect x="994" y="272.45" width="3" height="1" fill="#4a4a4a"/>
<rect x="994" y="298.81" width="3" height="1" fill="#4a4a4a"/>
<text x="998.00" y="275.45" font-size="6.5" fill="#222" textLength="21.70" lengthAdjust="spacingAndGlyphs" stroke="#222" stroke-width="0.15">1.33000</text>
<rect x="994" y="325.18" width="3" height="1" fill="#4a4a4a"/>
<rect x="994" y="351.55" width="3" height="1" fill="#4a4a4a"/>
<text x="998.00" y="328.18" font-size="6.5" fill="#222" textLength="21.70" lengthAdjust="spacingAndGlyphs" stroke="#222" stroke-width="0.15">1.32000</text>
<rect x="994" y="377.91" width="3" height="1" fill="#4a4a4a"/>
<rect x="994" y="404.27" width="3" height="1" fill="#4a4a4a"/>
<text x="998.00" y="380.91" font-size="6.5" fill="#222" textLength="21.70" lengthAdjust="spacingAndGlyphs" stroke="#222" stroke-width="0.15">1.31000</text>
<path d="M994.5 190.5H1021.5V200.5H994.5V197L993 195.5L994.5 194Z" fill="#fbfbe2" stroke="#505050" stroke-width="1"/>
<text x="996.40" y="197.70" font-size="6.6" fill="#111" textLength="21.80" lengthAdjust="spacingAndGlyphs" stroke="#111" stroke-width="0.25">1.34478</text>
<text x="1.20" y="410.90" font-size="5.9" fill="#a4a4a4" textLength="51.60" lengthAdjust="spacingAndGlyphs">INDICATIVE PRICE</text>
<text x="58.60" y="410.90" font-size="5.9" fill="#a4a4a4" textLength="96.40" lengthAdjust="spacingAndGlyphs">Time Zone: Eastern Time (US &amp; Canada)</text>
<rect x="0" y="412.5" width="993" height="8" fill="#ffffff"/>
<rect x="0" y="412" width="993" height="1" fill="#404040"/>
<rect x="0" y="420" width="993" height="1" fill="#404040"/>
<rect x="42.00" y="412" width="1" height="9" fill="#404040"/>
<rect x="110.50" y="412" width="1" height="9" fill="#404040"/>
<rect x="179.00" y="412" width="1" height="9" fill="#404040"/>
<rect x="247.50" y="412" width="1" height="9" fill="#404040"/>
<rect x="316.00" y="412" width="1" height="9" fill="#404040"/>
<rect x="384.50" y="412" width="1" height="9" fill="#404040"/>
<rect x="453.00" y="412" width="1" height="9" fill="#404040"/>
<rect x="521.50" y="412" width="1" height="9" fill="#404040"/>
<rect x="590.00" y="412" width="1" height="9" fill="#404040"/>
<rect x="658.50" y="412" width="1" height="9" fill="#404040"/>
<rect x="727.00" y="412" width="1" height="9" fill="#404040"/>
<rect x="795.50" y="412" width="1" height="9" fill="#404040"/>
<rect x="864.00" y="412" width="1" height="9" fill="#404040"/>
<rect x="932.50" y="412" width="1" height="9" fill="#404040"/>
<text x="18.70" y="418.80" font-size="6.3" fill="#333" textLength="7.50" lengthAdjust="spacingAndGlyphs" stroke="#333" stroke-width="0.08">06</text>
<text x="73.40" y="418.80" font-size="6.3" fill="#333" textLength="6.90" lengthAdjust="spacingAndGlyphs" stroke="#333" stroke-width="0.08">13</text>
<text x="112.40" y="418.80" font-size="6.3" fill="#333" textLength="7.40" lengthAdjust="spacingAndGlyphs" stroke="#333" stroke-width="0.08">20</text>
<text x="180.20" y="418.80" font-size="6.3" fill="#333" textLength="7.40" lengthAdjust="spacingAndGlyphs" stroke="#333" stroke-width="0.08">27</text>
<text x="277.80" y="418.80" font-size="6.3" fill="#333" textLength="7.40" lengthAdjust="spacingAndGlyphs" stroke="#333" stroke-width="0.08">03</text>
<text x="346.90" y="418.80" font-size="6.3" fill="#333" textLength="7.20" lengthAdjust="spacingAndGlyphs" stroke="#333" stroke-width="0.08">10</text>
<text x="415.70" y="418.80" font-size="6.3" fill="#333" textLength="6.70" lengthAdjust="spacingAndGlyphs" stroke="#333" stroke-width="0.08">17</text>
<text x="482.90" y="418.80" font-size="6.3" fill="#333" textLength="7.90" lengthAdjust="spacingAndGlyphs" stroke="#333" stroke-width="0.08">24</text>
<text x="551.70" y="418.80" font-size="6.3" fill="#333" textLength="7.60" lengthAdjust="spacingAndGlyphs" stroke="#333" stroke-width="0.08">01</text>
<text x="619.30" y="418.80" font-size="6.3" fill="#333" textLength="8.40" lengthAdjust="spacingAndGlyphs" stroke="#333" stroke-width="0.08">08</text>
<text x="689.70" y="418.80" font-size="6.3" fill="#333" textLength="7.90" lengthAdjust="spacingAndGlyphs" stroke="#333" stroke-width="0.08">15</text>
<text x="758.20" y="418.80" font-size="6.3" fill="#333" textLength="7.50" lengthAdjust="spacingAndGlyphs" stroke="#333" stroke-width="0.08">22</text>
<text x="797.30" y="418.80" font-size="6.3" fill="#333" textLength="7.20" lengthAdjust="spacingAndGlyphs" stroke="#333" stroke-width="0.08">29</text>
<text x="894.20" y="418.80" font-size="6.3" fill="#333" textLength="8.00" lengthAdjust="spacingAndGlyphs" stroke="#333" stroke-width="0.08">05</text>
<text x="934.50" y="418.80" font-size="6.3" fill="#333" textLength="7.00" lengthAdjust="spacingAndGlyphs" stroke="#333" stroke-width="0.08">12</text>
<rect x="0" y="421" width="993" height="8" fill="url(#gmon)"/>
<rect x="241.00" y="421" width="1" height="8" fill="#404040"/>
<rect x="521.00" y="421" width="1" height="8" fill="#404040"/>
<rect x="834.00" y="421" width="1" height="8" fill="#404040"/>
<text x="105.30" y="427.10" font-size="6.3" fill="#222" textLength="32.80" lengthAdjust="spacingAndGlyphs" stroke="#222" stroke-width="0.15">March 2017</text>
<text x="366.90" y="427.10" font-size="6.3" fill="#222" textLength="28.70" lengthAdjust="spacingAndGlyphs" stroke="#222" stroke-width="0.15">April 2017</text>
<text x="663.30" y="427.10" font-size="6.3" fill="#222" textLength="28.60" lengthAdjust="spacingAndGlyphs" stroke="#222" stroke-width="0.15">May 2017</text>
<text x="898.10" y="427.10" font-size="6.3" fill="#222" textLength="29.20" lengthAdjust="spacingAndGlyphs" stroke="#222" stroke-width="0.15">June 2017</text>
</svg></body></html>
